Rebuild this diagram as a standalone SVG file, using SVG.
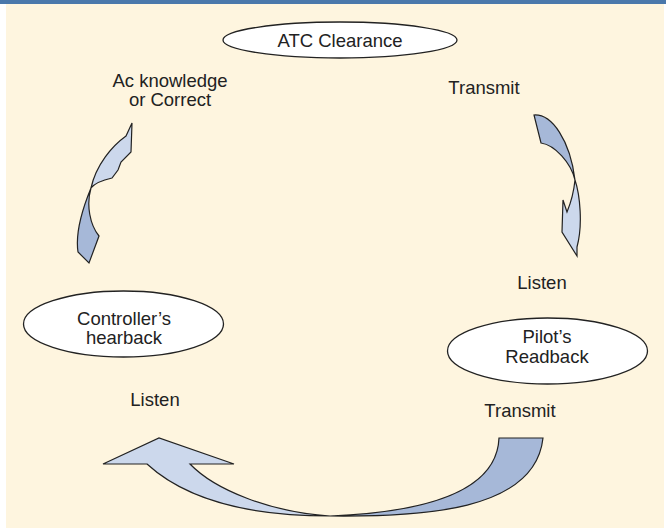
<svg xmlns="http://www.w3.org/2000/svg" width="666" height="529" viewBox="0 0 666 529">
<style>
  .bg { fill: #fef5df; }
  .bar { fill: #4a78ab; }
  .node ellipse { fill: #ffffff; stroke: #222222; stroke-width: 1.3; }
  text { font-family: "Liberation Sans", Arial, sans-serif; font-size: 18.5px; fill: #222222; text-anchor: middle; }
  .light { fill: #ccd8ec; stroke: #222222; stroke-width: 1.2; stroke-linejoin: miter; }
  .dark { fill: #a6b8d8; stroke: #222222; stroke-width: 1.2; stroke-linejoin: miter; }
</style>
<rect x="0" y="0" width="666" height="529" fill="#ffffff"/>
<rect class="bg" x="6" y="4" width="658" height="524"/>
<rect class="bar" x="0" y="0" width="666" height="4"/>

<g id="connectors">
  <g id="arrow-transmit-listen">
    <path class="dark" d="M534,115 C552,114 570,140 575,180 C571,163 555,145 541,143 Z"/>
    <path class="light" d="M575,180 C580,195 583,225 577,247 L577,256 L562,232 L563,200 L567,212 C572,200 574,190 575,180 Z"/>
  </g>
  <g id="arrow-transmit-listen-bottom">
    <path class="dark" d="M330,516 C420,517 535,512 543,438 L499,438 C497,490 430,512 330,516 Z"/>
    <path class="light" d="M330,516 C270,516 195,508 147,464 L103,464 L159,438 L234,464 L190,464 C215,490 270,512 330,516 Z"/>
  </g>
  <g id="arrow-listen-acknowledge">
    <path class="dark" d="M91,188 C84,205 75,232 78,252 L89,263 L99,236 C90,225 86,205 91,188 Z"/>
    <path class="light" d="M91,188 C96,165 112,146 126,136 L132,123 L131,152 L121,162 L118,170 L112,178 C103,180 95,183 91,188 Z"/>
  </g>
</g>

<g id="atc-clearance" class="node">
  <ellipse cx="340" cy="40" rx="117" ry="18"/>
  <text x="340" y="47">ATC Clearance</text>
</g>
<g id="pilots-readback" class="node">
  <ellipse cx="547.5" cy="351" rx="100" ry="33"/>
  <text x="547" y="343">Pilot’s</text>
  <text x="547" y="363">Readback</text>
</g>
<g id="controllers-hearback" class="node">
  <ellipse cx="123.5" cy="324" rx="100" ry="33"/>
  <text x="124" y="325">Controller’s</text>
  <text x="124" y="344">hearback</text>
</g>

<g id="labels">
  <text x="170" y="87">Ac knowledge</text>
  <text x="170" y="106">or Correct</text>
  <text x="484" y="94">Transmit</text>
  <text x="542" y="289">Listen</text>
  <text x="155" y="406">Listen</text>
  <text x="520" y="417">Transmit</text>
</g>
</svg>
